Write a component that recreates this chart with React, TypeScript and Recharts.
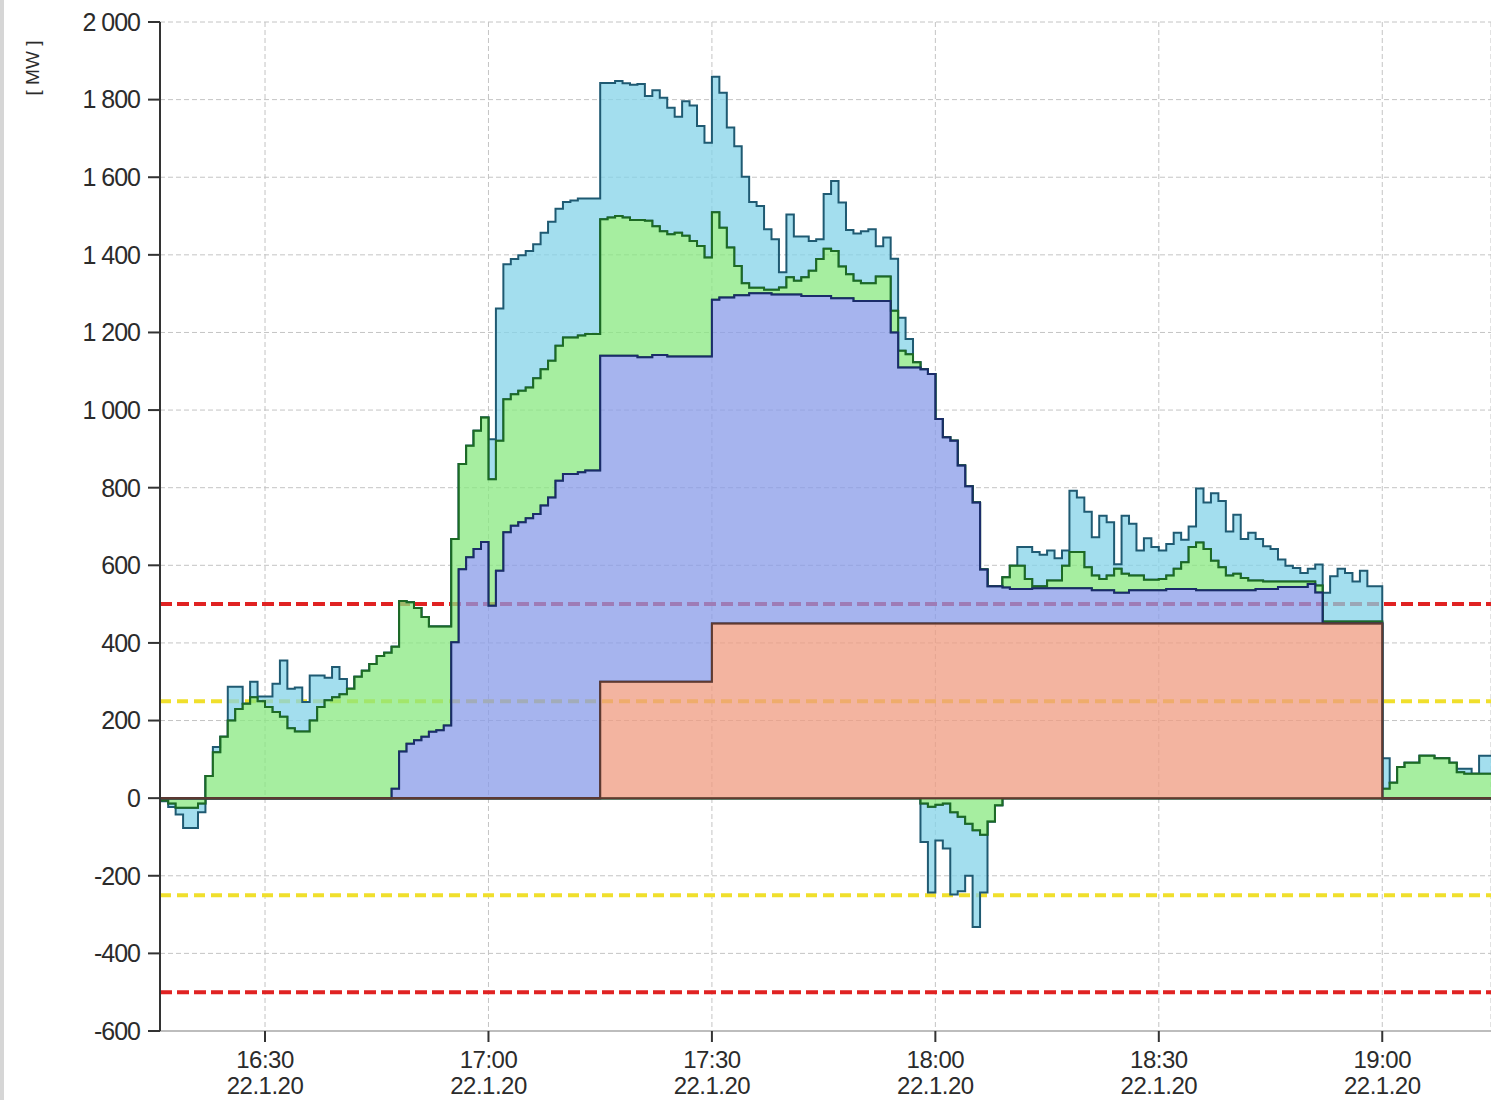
import React from 'react';
import { AreaChart, Area, XAxis, YAxis, CartesianGrid, ReferenceLine } from 'recharts';

// one value per minute, first entry = 16:16 (minutes counted from 16:00)
const firstMinute = 16;

const salmonLevel = [
  0, 0, 0, 0, 0, 0, 0, 0, 0, 0,
  0, 0, 0, 0, 0, 0, 0, 0, 0, 0,
  0, 0, 0, 0, 0, 0, 0, 0, 0, 0,
  0, 0, 0, 0, 0, 0, 0, 0, 0, 0,
  0, 0, 0, 0, 0, 0, 0, 0, 0, 0,
  0, 0, 0, 0, 0, 0, 0, 0, 0, 300,
  300, 300, 300, 300, 300, 300, 300, 300, 300, 300,
  300, 300, 300, 300, 450, 450, 450, 450, 450, 450,
  450, 450, 450, 450, 450, 450, 450, 450, 450, 450,
  450, 450, 450, 450, 450, 450, 450, 450, 450, 450,
  450, 450, 450, 450, 450, 450, 450, 450, 450, 450,
  450, 450, 450, 450, 450, 450, 450, 450, 450, 450,
  450, 450, 450, 450, 450, 450, 450, 450, 450, 450,
  450, 450, 450, 450, 450, 450, 450, 450, 450, 450,
  450, 450, 450, 450, 450, 450, 450, 450, 450, 450,
  450, 450, 450, 450, 450, 450, 450, 450, 450, 450,
  450, 450, 450, 450, 0, 0, 0, 0, 0, 0,
  0, 0, 0, 0, 0, 0, 0, 0, 0,
];

const blueLevel = [
  0, 0, 0, 0, 0, 0, 0, 0, 0, 0,
  0, 0, 0, 0, 0, 0, 0, 0, 0, 0,
  0, 0, 0, 0, 0, 0, 0, 0, 0, 0,
  0, 24, 120, 140, 149, 158, 171, 175, 187, 402,
  590, 621, 642, 660, 496, 586, 685, 702, 711, 721,
  732, 754, 775, 818, 835, 835, 840, 844, 844, 1140,
  1140, 1140, 1140, 1140, 1136, 1136, 1142, 1142, 1138, 1138,
  1138, 1138, 1138, 1138, 1284, 1290, 1290, 1296, 1296, 1301,
  1301, 1301, 1298, 1298, 1298, 1298, 1294, 1294, 1294, 1294,
  1288, 1288, 1288, 1281, 1281, 1281, 1281, 1281, 1200, 1110,
  1110, 1110, 1105, 1093, 977, 930, 921, 857, 804, 762,
  589, 546, 546, 543, 539, 539, 539, 541, 541, 541,
  541, 541, 541, 541, 541, 536, 536, 536, 529, 529,
  536, 536, 536, 536, 536, 539, 539, 539, 539, 536,
  536, 536, 536, 536, 536, 536, 536, 539, 539, 539,
  544, 544, 544, 544, 552, 530, 450, 450, 450, 450,
  450, 450, 450, 450, 0, 0, 0, 0, 0, 0,
  0, 0, 0, 0, 0, 0, 0, 0, 0,
];

const greenLevel = [
  -6, -14, -25, -25, -25, -14, 57, 118, 158, 200,
  230, 243, 260, 250, 235, 222, 210, 180, 172, 172,
  200, 235, 252, 260, 268, 282, 313, 328, 346, 366,
  375, 390, 508, 505, 490, 467, 442, 442, 442, 668,
  861, 908, 947, 981, 822, 921, 1028, 1041, 1050, 1058,
  1082, 1105, 1127, 1166, 1187, 1187, 1192, 1196, 1196, 1492,
  1496, 1500, 1496, 1490, 1490, 1488, 1474, 1461, 1453, 1457,
  1449, 1436, 1423, 1393, 1510, 1470, 1419, 1371, 1327, 1315,
  1315, 1310, 1310, 1316, 1342, 1333, 1342, 1359, 1389, 1416,
  1410, 1370, 1350, 1333, 1327, 1327, 1344, 1344, 1256, 1153,
  1144, 1123, -14, -22, -17, -14, -36, -48, -66, -83,
  -94, -60, -18, 569, 599, 599, 565, 546, 546, 561,
  561, 599, 634, 634, 595, 574, 565, 574, 591, 578,
  574, 574, 563, 563, 565, 574, 591, 608, 647, 659,
  642, 612, 595, 574, 578, 567, 561, 561, 558, 558,
  558, 558, 558, 558, 558, 548, 455, 455, 455, 455,
  455, 455, 455, 455, 24, 40, 80, 91, 91, 109,
  109, 103, 103, 91, 67, 63, 63, 63, 63,
];

const cyanLevel = [
  -8, -23, -42, -77, -77, -36, 57, 132, 158, 287,
  287, 243, 300, 262, 262, 295, 355, 282, 285, 248,
  316, 316, 310, 338, 307, 282, 313, 328, 346, 366,
  375, 390, 508, 505, 490, 467, 442, 442, 442, 668,
  861, 908, 947, 981, 925, 1262, 1376, 1389, 1399, 1410,
  1427, 1457, 1485, 1519, 1536, 1540, 1545, 1545, 1545, 1843,
  1843, 1848, 1842, 1838, 1840, 1809, 1824, 1805, 1779, 1756,
  1796, 1785, 1732, 1689, 1859, 1818, 1728, 1680, 1601, 1536,
  1526, 1466, 1440, 1355, 1504, 1447, 1447, 1436, 1440, 1557,
  1590, 1535, 1464, 1455, 1461, 1466, 1422, 1445, 1390, 1238,
  1183, 1123, -113, -243, -109, -130, -248, -240, -200, -332,
  -243, 546, 546, 569, 599, 647, 647, 634, 627, 638,
  618, 638, 792, 775, 738, 672, 728, 711, 603, 728,
  707, 638, 670, 647, 638, 655, 684, 666, 700, 798,
  762, 786, 766, 687, 730, 668, 684, 668, 649, 642,
  615, 599, 593, 580, 591, 602, 529, 572, 591, 580,
  558, 586, 546, 546, 103, 40, 80, 91, 91, 109,
  109, 103, 103, 91, 76, 76, 63, 109, 109,
];

const timeTicks = [30, 60, 90, 120, 150, 180];
const timeLabels = ['16:30', '17:00', '17:30', '18:00', '18:30', '19:00'];
const dateLabel = '22.1.20';
const mwTicks = [-600, -400, -200, 0, 200, 400, 600, 800, 1000, 1200, 1400, 1600, 1800, 2000];
const redLimits = [500, -500];
const yellowLimits = [250, -250];

// each band is drawn as a range [low, high] so positive and negative parts stay apart
const rows = salmonLevel.map((s, i) => {
  const b = blueLevel[i];
  const g = greenLevel[i];
  const c = cyanLevel[i];
  const blueTop = Math.max(b, s);
  const greenTop = g >= 0 ? Math.max(g, blueTop) : blueTop;
  const cyanTop = c >= 0 ? Math.max(c, greenTop) : greenTop;
  const gNeg = g < 0 ? g : 0;
  const cNeg = c < 0 ? Math.min(c, gNeg) : gNeg;
  return {
    t: firstMinute + i,
    salmon: [0, s],
    blue: [s, blueTop],
    greenPos: [blueTop, greenTop],
    cyanPos: [greenTop, cyanTop],
    greenNeg: [gNeg, 0],
    cyanNeg: [cNeg, gNeg],
  };
});
// last step has to run on to the right edge
rows.push({ ...rows[rows.length - 1], t: firstMinute + salmonLevel.length });

const fmtMW = (v: number) => {
  const a = Math.abs(v);
  const s = a >= 1000 ? `${Math.floor(a / 1000)} ${String(a % 1000).padStart(3, '0')}` : String(a);
  return v < 0 ? `-${s}` : s;
};

const TimeTick = (props: any) => {
  const { x, y, payload } = props;
  const idx = timeTicks.indexOf(payload.value);
  return (
    <g transform={`translate(${x},${y})`}>
      <text textAnchor="middle" fill="#2b2b2b" fontSize={24} letterSpacing={-0.5}>
        <tspan x={0} dy={26}>{timeLabels[idx]}</tspan>
        <tspan x={0} dy={26}>{dateLabel}</tspan>
      </text>
    </g>
  );
};

const bands = [
  { key: 'cyanNeg', fill: '#84d3e8', stroke: '#1f5a72' },
  { key: 'cyanPos', fill: '#84d3e8', stroke: '#1f5a72' },
  { key: 'greenNeg', fill: '#88e880', stroke: '#1d6a24' },
  { key: 'greenPos', fill: '#88e880', stroke: '#1d6a24' },
  { key: 'blue', fill: '#889be8', stroke: '#1b2c6a' },
  { key: 'salmon', fill: '#ef9b80', stroke: '#5e3a30' },
];

export default function App() {
  return (
    <div style={{ position: 'absolute', left: 0, top: 0, width: 1491, height: 1100, background: '#fff', overflow: 'hidden', fontFamily: '"Liberation Sans", Arial, sans-serif' }}>
      <div style={{ position: 'absolute', left: 0, top: 0, width: 4, height: 1100, background: '#d6d6d6' }} />
      <div style={{ position: 'absolute', left: 33, top: 68, transform: 'translate(-50%, -50%) rotate(-90deg)', whiteSpace: 'nowrap', fontSize: 19, color: '#2b2b2b' }}>
        [ MW ]
      </div>
      <AreaChart width={1491} height={1100} data={rows} margin={{ top: 22, right: 0, bottom: 0, left: 0 }}>
        <CartesianGrid stroke="#c4c4c4" strokeDasharray="5 3" />
        <XAxis
          dataKey="t"
          type="number"
          domain={[15.9, 194.6]}
          allowDataOverflow
          ticks={timeTicks}
          interval={0}
          height={69}
          tickSize={11}
          tickMargin={0}
          axisLine={{ stroke: '#bdbdbd', strokeWidth: 2 }}
          tickLine={{ stroke: '#333', strokeWidth: 2 }}
          tick={<TimeTick />}
        />
        <YAxis
          type="number"
          domain={[-600, 2000]}
          ticks={mwTicks}
          interval={0}
          width={160}
          tickSize={12}
          tickMargin={8}
          axisLine={{ stroke: '#333', strokeWidth: 2 }}
          tickLine={{ stroke: '#333', strokeWidth: 2 }}
          tick={{ fill: '#2b2b2b', fontSize: 25, letterSpacing: -1 }}
          tickFormatter={fmtMW}
        />
        {redLimits.map((v) => (
          <ReferenceLine key={`r${v}`} y={v} stroke="#e02222" strokeWidth={4} strokeDasharray="12 5" zIndex={50} />
        ))}
        {yellowLimits.map((v) => (
          <ReferenceLine key={`y${v}`} y={v} stroke="#f0df2c" strokeWidth={4} strokeDasharray="11 6" zIndex={50} />
        ))}
        {bands.map((b) => (
          <Area
            key={b.key}
            dataKey={b.key}
            type="stepAfter"
            fill={b.fill}
            fillOpacity={0.75}
            stroke={b.stroke}
            strokeWidth={2}
            dot={false}
            activeDot={false}
            isAnimationActive={false}
          />
        ))}
      </AreaChart>
    </div>
  );
}
